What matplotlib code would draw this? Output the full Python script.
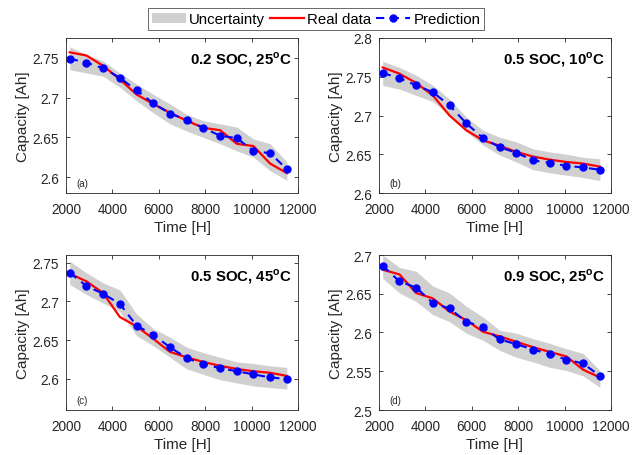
import matplotlib
matplotlib.use("Agg")
import matplotlib.pyplot as plt
from matplotlib.ticker import FormatStrFormatter
from matplotlib.patches import Patch
from matplotlib.lines import Line2D

plt.rcParams['font.family'] = ['Liberation Sans', 'DejaVu Sans']
plt.rcParams['mathtext.fontset'] = 'custom'
plt.rcParams['mathtext.rm'] = 'Liberation Sans'
plt.rcParams['mathtext.bf'] = 'Liberation Sans:bold'

# time points [h]
t = [2160, 2880, 3600, 4320, 5040, 5760, 6480, 7200, 7920, 8640, 9360, 10080, 10800, 11520]

# (a) 0.2 SOC, 25C
real_a = [2.757, 2.753, 2.740, 2.723, 2.704, 2.692, 2.681, 2.671, 2.662, 2.659, 2.642, 2.639, 2.617, 2.605]
pred_a = [2.749, 2.744, 2.737, 2.725, 2.709, 2.693, 2.680, 2.672, 2.662, 2.652, 2.649, 2.633, 2.630, 2.610]
up_a = [2.764, 2.754, 2.746, 2.731, 2.717, 2.704, 2.692, 2.679, 2.671, 2.667, 2.663, 2.648, 2.642, 2.619]
lo_a = [2.735, 2.731, 2.727, 2.713, 2.696, 2.681, 2.667, 2.658, 2.650, 2.642, 2.633, 2.625, 2.608, 2.596]

# (b) 0.5 SOC, 10C
real_b = [2.762, 2.754, 2.742, 2.726, 2.700, 2.681, 2.668, 2.661, 2.653, 2.647, 2.643, 2.640, 2.638, 2.634]
pred_b = [2.755, 2.748, 2.739, 2.730, 2.713, 2.690, 2.671, 2.659, 2.652, 2.642, 2.639, 2.635, 2.633, 2.630]
up_b = [2.770, 2.762, 2.752, 2.739, 2.721, 2.698, 2.681, 2.672, 2.666, 2.657, 2.653, 2.650, 2.646, 2.644]
lo_b = [2.739, 2.734, 2.726, 2.718, 2.700, 2.679, 2.662, 2.649, 2.640, 2.630, 2.626, 2.623, 2.620, 2.616]

# (c) 0.5 SOC, 45C
real_c = [2.736, 2.726, 2.711, 2.680, 2.668, 2.652, 2.635, 2.628, 2.622, 2.617, 2.613, 2.610, 2.608, 2.604]
pred_c = [2.737, 2.720, 2.710, 2.697, 2.669, 2.657, 2.641, 2.627, 2.619, 2.614, 2.610, 2.606, 2.602, 2.600]
up_c = [2.752, 2.737, 2.724, 2.715, 2.684, 2.665, 2.654, 2.641, 2.634, 2.628, 2.622, 2.620, 2.617, 2.615]
lo_c = [2.722, 2.709, 2.698, 2.687, 2.656, 2.643, 2.628, 2.613, 2.606, 2.599, 2.595, 2.591, 2.589, 2.587]

# (d) 0.9 SOC, 25C
real_d = [2.681, 2.675, 2.651, 2.644, 2.627, 2.616, 2.601, 2.595, 2.588, 2.581, 2.575, 2.569, 2.552, 2.542]
pred_d = [2.686, 2.666, 2.658, 2.638, 2.631, 2.614, 2.607, 2.591, 2.585, 2.578, 2.572, 2.565, 2.560, 2.544]
up_d = [2.700, 2.684, 2.679, 2.660, 2.651, 2.634, 2.620, 2.603, 2.599, 2.592, 2.586, 2.579, 2.573, 2.551]
lo_d = [2.670, 2.651, 2.640, 2.623, 2.614, 2.599, 2.590, 2.577, 2.568, 2.562, 2.555, 2.551, 2.544, 2.529]

titles = ['0.2 SOC, 25$^{\\mathbf{o}}$C', '0.5 SOC, 10$^{\\mathbf{o}}$C',
          '0.5 SOC, 45$^{\\mathbf{o}}$C', '0.9 SOC, 25$^{\\mathbf{o}}$C']
tags = ['(a)', '(b)', '(c)', '(d)']
ylims = [(2.58, 2.775), (2.6, 2.8), (2.56, 2.76), (2.5, 2.7)]
yticks = [[2.6, 2.65, 2.7, 2.75], [2.6, 2.65, 2.7, 2.75, 2.8],
          [2.6, 2.65, 2.7, 2.75], [2.5, 2.55, 2.6, 2.65, 2.7]]
reals = [real_a, real_b, real_c, real_d]
preds = [pred_a, pred_b, pred_c, pred_d]
ups = [up_a, up_b, up_c, up_d]
los = [lo_a, lo_b, lo_c, lo_d]

W, H = 643, 456
fig = plt.figure(figsize=(W / 100, H / 100), dpi=100)
boxes = [(66, 39), (379, 39), (66, 256), (379, 256)]
aw, ah = 232, 155

band_col = '#d0d0d0'
txt_col = '#262626'
for k in range(4):
    x0, y0 = boxes[k]
    ax = fig.add_axes([x0 / W, 1 - (y0 + ah) / H, aw / W, ah / H])
    ax.fill_between(t, los[k], ups[k], color=band_col, lw=0)
    ax.plot(t, reals[k], color='red', lw=1.6)
    ax.plot(t, preds[k], color='blue', ls='--', lw=1.5, marker='o', ms=5, dashes=(4, 3))
    ax.set_xlim(2000, 12000)
    ax.set_ylim(*ylims[k])
    ax.set_xticks(range(2000, 12001, 2000))
    ax.set_yticks(yticks[k])
    ax.yaxis.set_major_formatter(FormatStrFormatter('%g'))
    ax.tick_params(direction='in', top=True, right=True, labelsize=9.8, colors=txt_col,
                   length=3, width=0.6)
    ax.tick_params(axis='x', pad=6.5)
    ax.tick_params(axis='y', pad=5)
    for s in ax.spines.values():
        s.set_color(txt_col)
        s.set_linewidth(0.6)
    ax.set_xlabel('Time [H]', fontsize=11, color=txt_col, labelpad=3)
    ax.set_ylabel('Capacity [Ah]', fontsize=11, color=txt_col, labelpad=2)
    ax.text(0.974, 0.865, titles[k], transform=ax.transAxes, ha='right', va='center',
            fontsize=10.8, fontweight='bold')
    ax.text(0.043, 0.065, tags[k], transform=ax.transAxes, ha='left', va='center',
            fontsize=7, color=txt_col)

handles = [Patch(facecolor=band_col, edgecolor='none'),
           Line2D([], [], color='red', lw=1.6),
           Line2D([], [], color='blue', ls='--', lw=1.5, marker='o', ms=5, dashes=(4, 3))]
leg = fig.legend(handles, ['Uncertainty', 'Real data', 'Prediction'], ncol=3,
                 loc='center', bbox_to_anchor=(316 / W, 1 - 20 / H), fontsize=10.8,
                 frameon=True, fancybox=False, handlelength=2.3, handletextpad=0.2,
                 columnspacing=0.3, borderpad=0.25, borderaxespad=0)
leg.get_frame().set_edgecolor(txt_col)
leg.get_frame().set_linewidth(0.6)

fig.savefig('out.png', dpi=100)
